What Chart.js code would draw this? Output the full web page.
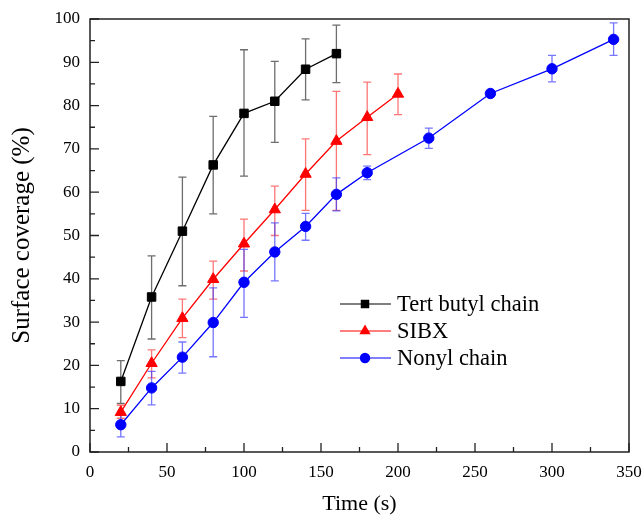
<!DOCTYPE html>
<html><head><meta charset="utf-8">
<script src="https://cdn.jsdelivr.net/npm/chart.js@4/dist/chart.umd.min.js"></script>
<style>html,body{margin:0;padding:0;background:#fff}#wrap{width:643px;height:517px}</style>
</head><body><div id="wrap"><canvas id="c" width="643" height="517"></canvas></div>
<script>
const seriesNames = ["Tert butyl chain", "SIBX", "Nonyl chain"];
const tertTime = [20, 40, 60, 80, 100, 120, 140, 160];
const tertValues = [16.3, 35.8, 51.0, 66.3, 78.2, 81.0, 88.4, 92.0];
const tertLow = [11.2, 26.1, 38.4, 55.0, 63.7, 71.5, 81.3, 85.3];
const tertHigh = [21.1, 45.3, 63.5, 77.5, 92.9, 90.2, 95.4, 98.6];
const sibxTime = [20, 40, 60, 80, 100, 120, 140, 160, 180, 200];
const sibxValues = [9.2, 20.5, 30.9, 39.9, 48.1, 56.0, 64.2, 71.8, 77.3, 82.7];
const sibxLow = [7.8, 17.1, 26.4, 35.3, 41.8, 50.0, 55.8, 55.8, 68.7, 77.9];
const sibxHigh = [10.8, 23.6, 35.3, 44.1, 53.8, 61.4, 72.3, 83.3, 85.4, 87.3];
const nonylTime = [20, 40, 60, 80, 100, 120, 140, 160, 180, 220, 260, 300, 340];
const nonylValues = [6.3, 14.8, 21.9, 29.9, 39.2, 46.2, 52.1, 59.5, 64.5, 72.5, 82.8, 88.5, 95.3];
const nonylLow = [3.5, 10.9, 18.2, 22.0, 31.1, 39.5, 48.9, 55.7, 62.9, 70.1, 82.3, 85.5, 91.6];
const nonylHigh = [8.8, 18.6, 25.4, 37.9, 46.8, 52.9, 55.1, 63.3, 66.0, 74.8, 83.3, 91.6, 99.1];
const xTickValues = [0, 50, 100, 150, 200, 250, 300, 350];
const yTickValues = [0, 10, 20, 30, 40, 50, 60, 70, 80, 90, 100];

const serif = "'Liberation Serif', 'Times New Roman', serif";
const toPts = (xs, ys) => xs.map((x, i) => ({x: x, y: ys[i]}));
const errs = [[tertLow, tertHigh], [sibxLow, sibxHigh], [nonylLow, nonylHigh]];
const errColors = ['rgba(60,60,60,0.75)', 'rgba(255,60,60,0.7)', 'rgba(60,60,255,0.7)'];

const errorBars = {
  id: 'errorBars',
  beforeDatasetsDraw(chart) {
    const ctx = chart.ctx, xs = chart.scales.x, ys = chart.scales.y;
    chart.data.datasets.forEach((ds, di) => {
      const [lo, hi] = errs[di];
      ctx.save();
      ctx.strokeStyle = errColors[di];
      ctx.lineWidth = 1.3;
      ds.data.forEach((p, i) => {
        const px = xs.getPixelForValue(p.x);
        const y1 = ys.getPixelForValue(lo[i]), y2 = ys.getPixelForValue(hi[i]);
        ctx.beginPath();
        ctx.moveTo(px, y1); ctx.lineTo(px, y2);
        ctx.moveTo(px - 4, y1); ctx.lineTo(px + 4, y1);
        ctx.moveTo(px - 4, y2); ctx.lineTo(px + 4, y2);
        ctx.stroke();
      });
      ctx.restore();
    });
  }
};

const frameTicks = {
  id: 'frameTicks',
  afterDraw(chart) {
    const ctx = chart.ctx, a = chart.chartArea, xs = chart.scales.x, ys = chart.scales.y;
    ctx.save();
    ctx.strokeStyle = '#222';
    ctx.lineWidth = 1.5;
    ctx.strokeRect(a.left, a.top, a.right - a.left, a.bottom - a.top);
    ctx.lineWidth = 1.3;
    ctx.beginPath();
    for (let v = 0; v <= 350; v += 25) {
      const px = xs.getPixelForValue(v);
      const len = (v % 50 === 0) ? 9 : 5;
      ctx.moveTo(px, a.bottom); ctx.lineTo(px, a.bottom - len);
    }
    for (let v = 0; v <= 100; v += 5) {
      const py = ys.getPixelForValue(v);
      const len = (v % 10 === 0) ? 9 : 5;
      ctx.moveTo(a.left, py); ctx.lineTo(a.left + len, py);
    }
    ctx.stroke();
    // legend
    const lx0 = 340, lx1 = 391, tx = 397, ly = [304, 331, 358];
    ctx.font = "22.5px " + serif;
    ctx.textBaseline = 'middle';
    ctx.textAlign = 'left';
    chart.data.datasets.forEach((ds, i) => {
      ctx.strokeStyle = ds.borderColor;
      ctx.lineWidth = 1.2;
      ctx.beginPath(); ctx.moveTo(lx0, ly[i]); ctx.lineTo(lx1, ly[i]); ctx.stroke();
      ctx.fillStyle = ds.pointBackgroundColor;
      Chart.helpers.drawPoint(ctx, {pointStyle: ds.pointStyle, radius: ds.pointRadius, borderWidth: 0}, 365, ly[i]);
      ctx.fillStyle = '#000';
      ctx.fillText(ds.label, tx, ly[i] + 1);
    });
    ctx.restore();
  }
};

new Chart(document.getElementById('c'), {
  type: 'line',
  data: {
    datasets: [
      {label: seriesNames[0], data: toPts(tertTime, tertValues), borderColor: '#000', backgroundColor: '#000', pointBackgroundColor: '#000', pointBorderColor: '#000', pointStyle: 'rect', pointRadius: 6, borderWidth: 1.3, pointBorderWidth: 1},
      {label: seriesNames[1], data: toPts(sibxTime, sibxValues), borderColor: '#ff0000', backgroundColor: '#ff0000', pointBackgroundColor: '#ff0000', pointBorderColor: '#ff0000', pointStyle: 'triangle', pointRadius: 6.5, borderWidth: 1.3, pointBorderWidth: 1},
      {label: seriesNames[2], data: toPts(nonylTime, nonylValues), borderColor: '#0000ff', backgroundColor: '#0000ff', pointBackgroundColor: '#0000ff', pointBorderColor: '#0000ff', pointStyle: 'circle', pointRadius: 5.2, borderWidth: 1.3, pointBorderWidth: 1}
    ]
  },
  options: {
    responsive: false,
    animation: false,
    devicePixelRatio: 1,
    layout: {padding: {top: 19, right: 14, left: 0, bottom: 0}},
    plugins: {legend: {display: false}, tooltip: {enabled: false}},
    scales: {
      x: {
        type: 'linear', min: 0, max: 350,
        afterBuildTicks(s) { s.ticks = xTickValues.map(v => ({value: v})); },
        afterFit(s) { s.height = 65; s.paddingRight = 0; s.paddingLeft = 0; },
        grid: {display: false, drawTicks: false},
        border: {display: false},
        ticks: {color: '#000', font: {family: serif, size: 17}, padding: 10, maxRotation: 0},
        title: {display: true, text: 'Time (s)', color: '#000', font: {family: serif, size: 22}, padding: {top: 9, bottom: 0}}
      },
      y: {
        type: 'linear', min: 0, max: 100,
        afterBuildTicks(s) { s.ticks = yTickValues.map(v => ({value: v})); },
        afterFit(s) { s.width = 90; s.paddingTop = 0; s.paddingBottom = 0; },
        grid: {display: false, drawTicks: false},
        border: {display: false},
        ticks: {color: '#000', font: {family: serif, size: 17}, padding: 10},
        title: {display: true, text: 'Surface coverage (%)', color: '#000', font: {family: serif, size: 25}, padding: {top: 7, bottom: 0}}
      }
    }
  },
  plugins: [errorBars, frameTicks]
});
</script>
</body></html>
